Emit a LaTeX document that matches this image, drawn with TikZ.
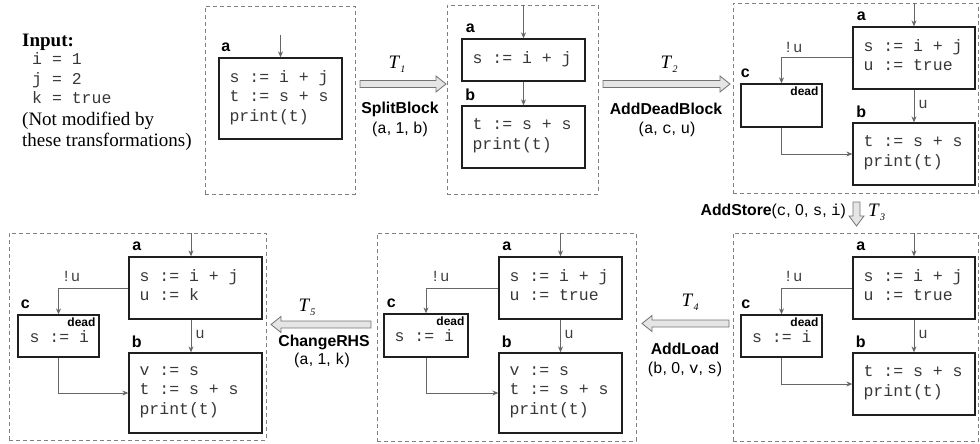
\documentclass[tikz,border=0pt]{standalone}
\usepackage{fontspec}
\setmainfont{Liberation Serif}
\setsansfont{Liberation Sans}
\setmonofont{Liberation Mono}
\usetikzlibrary{arrows.meta,calc}
\newcommand\Tlab[1]{\textit{T}\kern0.3pt\raisebox{-0.45ex}{\fontsize{10}{10}\selectfont\textit{#1}}}
\tikzset{
 panel/.style={draw=black!50, line width=0.9pt, dash pattern=on 4pt off 3pt},
 blk/.style={draw=black!88, line width=1.3pt, inner sep=0pt, rectangle},
 code/.style={font=\fontsize{16.5}{19.5}\selectfont\ttfamily, align=left, anchor=west, inner sep=0pt, text=black!78, execute at begin node=\strut, execute at end node=\strut},
 codeone/.style={font=\fontsize{16.5}{19.5}\selectfont\ttfamily, anchor=base west, inner sep=0pt, text=black!78},
 lbl/.style={font=\fontsize{16}{18}\selectfont\sffamily\bfseries, inner sep=0pt},
 deadlbl/.style={font=\fontsize{12}{14}\selectfont\sffamily\bfseries, inner sep=0pt, anchor=north east},
 elbl/.style={font=\fontsize{15.5}{18}\selectfont\ttfamily, inner sep=0pt, text=black!75},
 edge/.style={draw=black!60, line width=1pt, -{Stealth[length=6pt,width=5pt]}},
 bigarr/.style={fill=black!10, draw=black!55, line width=0.8pt},
 tname/.style={font=\fontsize{15.8}{18}\selectfont\sffamily\bfseries, inner sep=0pt},
 targs/.style={font=\fontsize{15.8}{18}\selectfont\sffamily, inner sep=0pt},
 tlab/.style={font=\fontsize{19}{20}\selectfont, inner sep=0pt, anchor=base},
 note/.style={font=\fontsize{19}{21}\selectfont, align=left, anchor=west, inner sep=0pt, execute at begin node=\strut, execute at end node=\strut},
}
\begin{document}
\frenchspacing
\begin{tikzpicture}[x=1pt,y=-1pt]
\useasboundingbox (0,0) rectangle (980,444);

% ---------- Input text ----------
\node[font=\fontsize{19}{21}\selectfont\bfseries, anchor=west, inner sep=0pt] (inTitle) at (22,42) {Input:};
\node[code] (inCode) at (32,81) {i = 1\\j = 2\\k = true};
\node[note] (inNote) at (22,132.5) {(Not modified by\\these transformations)};

% ---------- Panel 1 ----------
\node[panel, minimum width=150pt, minimum height=188pt, inner sep=0pt] (p1) at (280,100) {};
\node[blk, minimum width=123pt, minimum height=81pt] (a1) at (280.5,98.5) {};
\node[code] (a1t) at ($(a1.west)+(11,0)$) {s := i + j\\t := s + s\\print(t)};
\node[lbl] (a1l) at ($(a1.north west)+(7.5,-10)$) {a};
\coordinate (e1) at (280.5,35);
\draw[edge] (e1) -- (a1.north);

% ---------- Panel 2 ----------
\node[panel, minimum width=151pt, minimum height=189pt, inner sep=0pt] (p2) at (522.5,99.5) {};
\node[blk, minimum width=123pt, minimum height=42pt] (a2) at (523.5,60) {};
\node[code] (a2t) at ($(a2.west)+(11,0)$) {s := i + j};
\node[lbl] (a2l) at ($(a2.north west)+(9,-10)$) {a};
\node[blk, minimum width=123pt, minimum height=62pt] (b2) at (523.5,137) {};
\node[code] (b2t) at ($(b2.west)+(11,0)$) {t := s + s\\print(t)};
\node[lbl] (b2l) at ($(b2.north west)+(9,-11)$) {b};
\coordinate (e2) at (523.5,5);
\draw[edge] (e2) -- (a2.north);
\draw[edge] (a2.south) -- (b2.north);

% ---------- Panel 3 ----------
\node[panel, minimum width=245.5pt, minimum height=190pt, inner sep=0pt] (p3) at (855.75,98) {};
\node[blk, minimum width=122pt, minimum height=62pt] (a3) at (914,58) {};
\node[code] (a3t) at ($(a3.west)+(11,0)$) {s := i + j\\u := true};
\node[lbl] (a3l) at ($(a3.north west)+(9,-10)$) {a};
\node[blk, minimum width=122pt, minimum height=62pt] (b3) at (914,154) {};
\node[code] (b3t) at ($(b3.west)+(11,0)$) {t := s + s\\print(t)};
\node[lbl] (b3l) at ($(b3.north west)+(9,-11)$) {b};
\node[blk, minimum width=81pt, minimum height=43pt] (c3) at (781.5,105.5) {};
\node[lbl] (c3l) at ($(c3.north west)+(5,-10)$) {c};
\node[deadlbl] (c3d) at ($(c3.north east)+(-4,3)$) {dead};
\coordinate (e3) at (914,3);
\draw[edge] (e3) -- (a3.north);
\draw[edge] (a3.west) -| (c3.north);
\draw[edge] (a3.south) -- (b3.north);
\draw[edge] (c3.south) |- (b3.west);
\node[elbl] (l3nu) at (793,47) {!u};
\node[elbl] (l3u) at (923,104) {u};

% ---------- Panel 6 (bottom right) ----------
\node[panel, minimum width=245.5pt, minimum height=208pt, inner sep=0pt] (p6) at (855.75,337) {};
\node[blk, minimum width=122pt, minimum height=62pt] (a6) at (914,288) {};
\node[code] (a6t) at ($(a6.west)+(11,0)$) {s := i + j\\u := true};
\node[lbl] (a6l) at ($(a6.north west)+(8.5,-10)$) {a};
\node[blk, minimum width=122pt, minimum height=62pt] (b6) at (914,384) {};
\node[code] (b6t) at ($(b6.west)+(11,0)$) {t := s + s\\print(t)};
\node[lbl] (b6l) at ($(b6.north west)+(8.5,-10.5)$) {b};
\node[blk, minimum width=81pt, minimum height=42pt] (c6) at (781.5,336) {};
\node[codeone] (c6t) at ($(c6.west)+(11.5,6)$) {s := i};
\node[lbl] (c6l) at ($(c6.north west)+(5.5,-10.5)$) {c};
\node[deadlbl] (c6d) at ($(c6.north east)+(-4,3)$) {dead};
\coordinate (e6) at (914,233);
\draw[edge] (e6) -- (a6.north);
\draw[edge] (a6.west) -| (c6.north);
\draw[edge] (a6.south) -- (b6.north);
\draw[edge] (c6.south) |- (b6.west);
\node[elbl] (l6nu) at (793,276) {!u};
\node[elbl] (l6u) at (923,334) {u};

% ---------- Panel 5 (bottom middle) ----------
\node[panel, minimum width=259pt, minimum height=208pt, inner sep=0pt] (p5) at (506.5,337) {};
\node[blk, minimum width=123pt, minimum height=62pt] (a5) at (560.5,288) {};
\node[code] (a5t) at ($(a5.west)+(11,0)$) {s := i + j\\u := true};
\node[lbl] (a5l) at ($(a5.north west)+(8.5,-10)$) {a};
\node[blk, minimum width=123pt, minimum height=80pt] (b5) at (560.5,393) {};
\node[code] (b5t) at ($(b5.west)+(11,0)$) {v := s\\t := s + s\\print(t)};
\node[lbl] (b5l) at ($(b5.north west)+(8.5,-10.5)$) {b};
\node[blk, minimum width=84pt, minimum height=43pt] (c5) at (426,335.5) {};
\node[codeone] (c5t) at ($(c5.west)+(11,6)$) {s := i};
\node[lbl] (c5l) at ($(c5.north west)+(8,-10)$) {c};
\node[deadlbl] (c5d) at ($(c5.north east)+(-4,3)$) {dead};
\coordinate (e5) at (560.5,233);
\draw[edge] (e5) -- (a5.north);
\draw[edge] (a5.west) -| (c5.north);
\draw[edge] (a5.south) -- (b5.north);
\draw[edge] (c5.south) |- (b5.west);
\node[elbl] (l5nu) at (440,276) {!u};
\node[elbl] (l5u) at (569,334) {u};

% ---------- Panel 4 (bottom left) ----------
\node[panel, minimum width=257pt, minimum height=207pt, inner sep=0pt] (p4) at (137.5,336.5) {};
\node[blk, minimum width=133pt, minimum height=62pt] (a4) at (195.5,288) {};
\node[code] (a4t) at ($(a4.west)+(11,0)$) {s := i + j\\u := k};
\node[lbl] (a4l) at ($(a4.north west)+(8.5,-10)$) {a};
\node[blk, minimum width=133pt, minimum height=80pt] (b4) at (195.5,393) {};
\node[code] (b4t) at ($(b4.west)+(11,0)$) {v := s\\t := s + s\\print(t)};
\node[lbl] (b4l) at ($(b4.north west)+(8.5,-10.5)$) {b};
\node[blk, minimum width=81pt, minimum height=42pt] (c4) at (58.5,336) {};
\node[codeone] (c4t) at ($(c4.west)+(12,6)$) {s := i};
\node[lbl] (c4l) at ($(c4.north west)+(8,-10.5)$) {c};
\node[deadlbl] (c4d) at ($(c4.north east)+(-4,3)$) {dead};
\coordinate (e4) at (191,233);
\draw[edge] (e4) -- (e4 |- a4.north);
\draw[edge] (a4.west) -| (c4.north);
\draw[edge] (e4 |- a4.south) -- (e4 |- b4.north);
\draw[edge] (c4.south) |- (b4.west);
\node[elbl] (l4nu) at (71,276) {!u};
\node[elbl] (l4u) at (200,334) {u};

% ---------- Transformation arrows ----------
% T1
\draw[bigarr] (360,80.5) -- (436,80.5) -- (436,76) -- (446,84) -- (436,92) -- (436,87.5) -- (360,87.5) -- cycle;
\node[tlab] (t1) at (397,68.3) {\Tlab{1}};
\node[tname] (t1n) at (400,109) {SplitBlock};
\node[targs] (t1a) at (400,129) {(\texttt{a}, 1, \texttt{b})};
% T2
\draw[bigarr] (603,80.5) -- (720,80.5) -- (720,76) -- (730,84) -- (720,92) -- (720,87.5) -- (603,87.5) -- cycle;
\node[tlab] (t2) at (669,68.3) {\Tlab{2}};
\node[tname] (t2n) at (666,109) {AddDeadBlock};
\node[targs] (t2a) at (667,129) {(\texttt{a}, \texttt{c}, \texttt{u})};
% T3
\draw[bigarr] (853,202) -- (853,216) -- (849,216) -- (856.5,226) -- (864,216) -- (860,216) -- (860,202) -- cycle;
\node[tlab] (t3) at (876.5,216.3) {\Tlab{3}};
\node[targs, anchor=east] (t3n) at (846,211) {\textbf{AddStore}(\texttt{c}, 0, \texttt{s}, \texttt{i})};
% T4
\draw[bigarr] (729,320) -- (652,320) -- (652,315.5) -- (642,323.5) -- (652,331.5) -- (652,327) -- (729,327) -- cycle;
\node[tlab] (t4) at (690,306.3) {\Tlab{4}};
\node[tname] (t4n) at (685,348.5) {AddLoad};
\node[targs] (t4a) at (685,369) {(\texttt{b}, 0, \texttt{v}, \texttt{s})};
% T5
\draw[bigarr] (371,321) -- (281,321) -- (281,316.5) -- (271,324.5) -- (281,332.5) -- (281,328) -- (371,328) -- cycle;
\node[tlab] (t5) at (307,311.3) {\Tlab{5}};
\node[tname] (t5n) at (324,342) {ChangeRHS};
\node[targs] (t5a) at (322,360) {(\texttt{a}, 1, \texttt{k})};
\end{tikzpicture}
\end{document}
